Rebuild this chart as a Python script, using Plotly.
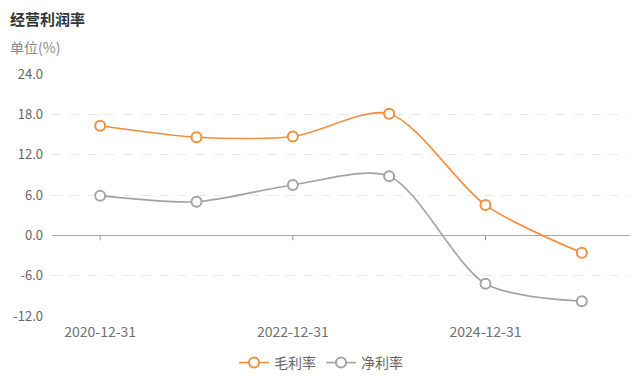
import plotly.graph_objects as go

categories = ["2020-12-31", "2021-12-31", "2022-12-31", "2023-12-31", "2024-12-31", "2025-06-30"]
gross_margin = [16.3, 14.6, 14.7, 18.1, 4.5, -2.6]
net_margin = [5.9, 5.0, 7.5, 8.8, -7.2, -9.8]
y_ticks = [-12, -6, 0, 6, 12, 18, 24]
x_tick_labels = ["2020-12-31", "2022-12-31", "2024-12-31"]

ORANGE = "#f28e3c"
GRAY = "#a3a3a3"
FONT = "Noto Sans CJK SC"

fig = go.Figure()
fig.add_trace(go.Scatter(
    x=categories, y=gross_margin, name="毛利率", mode="lines+markers",
    line=dict(color=ORANGE, width=1.6, shape="spline", smoothing=0.8),
    marker=dict(size=10, color="white", line=dict(color=ORANGE, width=2)),
))
fig.add_trace(go.Scatter(
    x=categories, y=net_margin, name="净利率", mode="lines+markers",
    line=dict(color=GRAY, width=1.6, shape="spline", smoothing=0.8),
    marker=dict(size=10, color="white", line=dict(color=GRAY, width=2)),
))

for c in x_tick_labels:
    fig.add_shape(type="line", xref="x", yref="y", x0=c, x1=c,
                  ysizemode="pixel", yanchor=0, y0=0, y1=-5,
                  line=dict(color="#999999", width=1))

L, R, T, B = 44, 18, 66, 75
PLOT_H = 383 - T - B
PLOT_W = 640 - L - R
BOTTOM = 383 - B

fig.update_layout(
    width=640, height=383,
    margin=dict(l=L, r=R, t=T, b=B, autoexpand=False),
    plot_bgcolor="white", paper_bgcolor="white",
    font=dict(family=FONT, color="#666666", size=12),
    showlegend=True,
    legend=dict(orientation="h", x=313 / 640, xanchor="center", xref="container",
                yref="container", y=1 - 355 / 383, yanchor="middle",
                font=dict(size=14, color="#666666"), itemwidth=30),
    xaxis=dict(type="category", categoryorder="array", categoryarray=categories,
               tickvals=x_tick_labels, ticktext=x_tick_labels,
               showgrid=False, zeroline=False, showline=False, ticks="",
               automargin=False, ticklabelstandoff=6,
               tickfont=dict(size=14, color="#707070"),
               range=[-0.5, len(categories) - 0.5]),
    yaxis=dict(range=[-12, 24], tickvals=y_ticks,
               ticktext=[f"{v:.1f}" for v in y_ticks],
               showgrid=True, gridcolor="#e8e8e8", griddash="dash", gridwidth=1,
               zeroline=True, zerolinecolor="#aaaaaa", zerolinewidth=1,
               showline=False, ticks="", ticklabelstandoff=8, automargin=False,
               tickfont=dict(size=13, color="#666666")),
    annotations=[
        dict(text="<b>经营利润率</b>", xref="paper", yref="paper",
             x=-L / PLOT_W, y=(BOTTOM - 10) / PLOT_H,
             xanchor="left", yanchor="middle", showarrow=False,
             font=dict(size=15, color="#333333", family=FONT)),
        dict(text="单位(%)", xref="paper", yref="paper",
             x=-L / PLOT_W, y=(BOTTOM - 39) / PLOT_H,
             xanchor="left", yanchor="middle", showarrow=False,
             font=dict(size=14, color="#888888", family=FONT)),
    ],
)

fig.write_html("out.html")
